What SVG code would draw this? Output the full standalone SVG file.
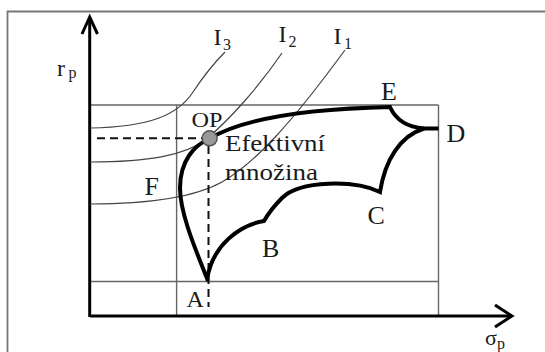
<svg xmlns="http://www.w3.org/2000/svg" width="545" height="352" viewBox="0 0 545 352" font-family="'Liberation Serif', 'DejaVu Serif', serif">
<style>
text{font-family:'Liberation Serif','DejaVu Serif',serif;fill:#1a1a1a}
.big{font-size:26px}
.sub{font-size:16px}
.thin{fill:none;stroke:#444;stroke-width:1.2}
.grid{fill:none;stroke:#666;stroke-width:1.4}
.axis{fill:none;stroke:#000;stroke-width:3}
.dash{fill:none;stroke:#111;stroke-width:2;stroke-dasharray:8 5}
.thick{fill:none;stroke:#000;stroke-width:4;stroke-linejoin:miter}
</style>
<rect width="545" height="352" fill="#fff"/>
<path d="M7.5 360 V11.5 H560" fill="none" stroke="#777" stroke-width="1.8"/>
<g id="grid">
<path class="grid" d="M90 105 H438.5 M90 281.5 H438.5 M176.6 105 V316 M438.5 105 V316"/>
</g>
<g id="axes">
<path class="axis" d="M89.7 317 V17 M90 316 H512"/>
<path class="axis" d="M82 34 L89.7 17 L97.5 34"/>
<path class="axis" d="M495 305 L512 316 L495 327"/>
<text x="57" y="76" font-size="24">r</text><text x="68.5" y="77.5" class="sub">p</text>
<text x="485" y="345" font-size="22">σ</text><text x="497" y="349" class="sub">p</text>
</g>
<g id="connectors">
<path class="thin" d="M90 128 C150 127 178 115 193 92 C205 74 215 62 225 52"/>
<path class="thin" d="M90 162 C150 162 185 155 205 140 C230 120 260 85 282 53"/>
<path class="thin" d="M90 204 C150 204 195 197 222 182 C255 163 290 125 345 50"/>
<path class="dash" d="M97 138.3 H203"/>
<path class="dash" d="M208.5 146 V307"/>
</g>
<g id="set">
<path class="thick" d="M208 281 C198 255 180 215 180 188 C180 160 195 145 209 139 C240 120 300 109 390 107 C395 118 405 127 424 128.5 C400 136 385 160 380 192 C355 180 300 180 282 198 C272 208 268 214 264 221 C240 225 212 245 207 280"/>
<path class="thick" d="M423 128.5 H438.5"/>
</g>
<g id="OP">
<circle cx="209.6" cy="138.3" r="7.5" fill="#999" stroke="#555" stroke-width="1.5"/>
<text x="191.5" y="127" font-size="22" textLength="31" lengthAdjust="spacingAndGlyphs">OP</text>
</g>
<g id="labels">
<text x="225" y="151" font-size="24" textLength="100" lengthAdjust="spacingAndGlyphs">Efektivní</text>
<text x="225" y="180" font-size="24" textLength="93" lengthAdjust="spacingAndGlyphs">množina</text>
<text x="213.5" y="45" font-size="24">I</text><text x="223" y="50" class="sub">3</text>
<text x="278.5" y="42" font-size="24">I</text><text x="288.5" y="47" class="sub">2</text>
<text x="333.5" y="44" font-size="24">I</text><text x="344" y="49" class="sub">1</text>
</g>
<g id="A"><text x="186.5" y="306.5" font-size="24">A</text></g>
<g id="B"><text x="262" y="256.5" class="big">B</text></g>
<g id="C"><text x="367.5" y="223.5" class="big">C</text></g>
<g id="D"><text x="446.5" y="141.5" class="big">D</text></g>
<g id="E"><text x="381" y="100" class="big">E</text></g>
<g id="F"><text x="144.5" y="194.5" class="big">F</text></g>
</svg>
